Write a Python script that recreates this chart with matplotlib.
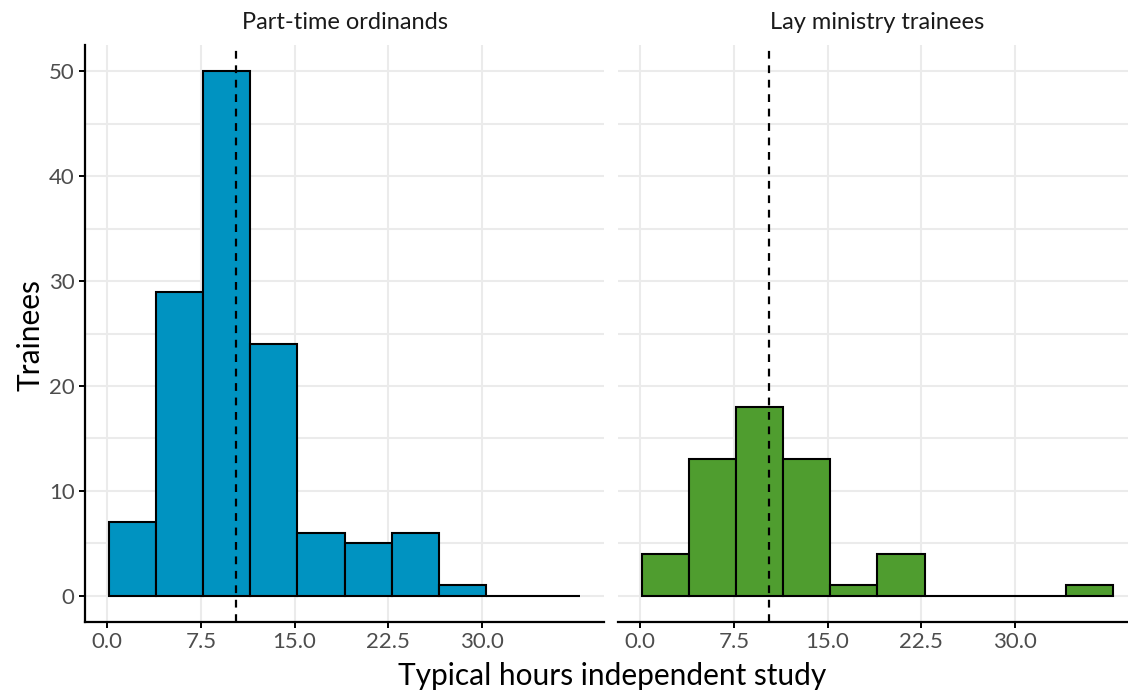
import numpy as np
import matplotlib
matplotlib.use("Agg")
import matplotlib.pyplot as plt

plt.rcParams['font.family'] = ['Lato', 'DejaVu Sans']

# 数据 (直方图计数, bins=10, 数据范围 2..36)
panels = ["Part-time ordinands", "Lay ministry trainees"]
counts_ordinands = [7, 29, 50, 24, 6, 5, 6, 1, 0, 0]
counts_lay = [4, 13, 18, 13, 1, 4, 0, 0, 0, 1]
hours_min, hours_max = 2, 36
mean_hours = 10.3
colors = ["#0093C1", "#4F9D2F"]

x_ticks = [0.0, 7.5, 15.0, 22.5, 30.0]
y_ticks = [0, 10, 20, 30, 40, 50]

# ggplot 风格的 bin 边界
n_bins = len(counts_ordinands)
width = (hours_max - hours_min) / (n_bins - 1)
edges = hours_min - width / 2 + width * np.arange(n_bins + 1)

W, H = 1128, 691
fig = plt.figure(figsize=(W / 100, H / 100), dpi=100)

def px_axes(left, top, right, bottom):
    return fig.add_axes([left / W, 1 - bottom / H, (right - left) / W, (bottom - top) / H])

ax1 = px_axes(85, 45, 604, 622)
ax2 = px_axes(618, 45, 1137, 622)

xlim = (edges[0] - 0.05 * (edges[-1] - edges[0]), edges[-1] + 0.05 * (edges[-1] - edges[0]))

for i, (ax, counts) in enumerate(zip([ax1, ax2], [counts_ordinands, counts_lay])):
    ax.set_xlim(*xlim)
    ax.set_ylim(-2.5, 52.5)
    # 网格
    for y in range(0, 55, 5):
        ax.axhline(y, color="#EBEBEB", lw=1.5, zorder=0)
    for x in x_ticks:
        ax.axvline(x, color="#EBEBEB", lw=1.5, zorder=0)
    ax.bar(edges[:-1], counts, width=width, align="edge", color=colors[i],
           edgecolor="black", linewidth=1.5, zorder=2)
    ax.axvline(mean_hours, color="black", lw=1.6, linestyle=(0, (3.5, 3)), zorder=3)

    ax.set_xticks(x_ticks)
    ax.set_xticklabels([f"{t:.1f}" for t in x_ticks])
    ax.set_yticks(y_ticks)
    for s in ["top", "right"]:
        ax.spines[s].set_visible(False)
    ax.spines["bottom"].set_linewidth(1.6)
    ax.spines["left"].set_linewidth(1.6)
    ax.tick_params(axis="both", length=4.5, width=1.4, color="black",
                   labelsize=16, labelcolor="#4D4D4D", pad=3)
    ax.set_facecolor("none")
    ax.text(0.5, 1.021, panels[i], transform=ax.transAxes, ha="center", va="bottom",
            fontsize=17, color="#1A1A1A")

ax2.spines["left"].set_visible(False)
ax2.tick_params(axis="y", left=False, labelleft=False)

fig.text(612 / W, 1 - 676 / H, "Typical hours independent study", ha="center", va="center",
         fontsize=21.5, color="black")
fig.text(30 / W, 1 - 335 / H, "Trainees", ha="center", va="center", rotation=90,
         fontsize=21.5, color="black")

fig.savefig("out.png", dpi=100)
